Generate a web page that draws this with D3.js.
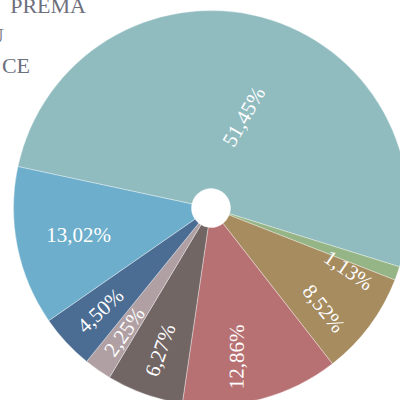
<!DOCTYPE html>
<html>
<head>
<meta charset="utf-8">
<script src="https://cdn.jsdelivr.net/npm/d3@7"></script>
<style>
  body { margin: 0; background: #ffffff; }
  svg { display: block; }
  text { font-family: "Liberation Serif", "Times New Roman", Times, serif; }
</style>
</head>
<body>
<div id="chart"></div>
<script>
// slice values, in drawing order (clockwise)
var values = [51.45, 1.13, 8.52, 12.86, 6.27, 2.25, 4.50, 13.02];
var colors = ["#90bcc0", "#96b586", "#a68c5f", "#b87173", "#726665", "#b0a0a4", "#4b6c93", "#6caecb"];
// the legend is cut off at the left edge, only the ends of three names show
var legendNames = ["PREMA", "U", "CE"];

var width = 400,
    height = 400;

var cx = 211,
    cy = 208,
    outerR = 197.5,
    innerR = 19.5;

var toRad = Math.PI / 180;
var startAngle = -77.9 * toRad;

var svg = d3.select("#chart").append("svg")
    .attr("width", width)
    .attr("height", height);

// format like the original, comma as decimal mark
function fmt(v) {
    return v.toFixed(2).replace(".", ",") + "%";
}

var pie = d3.pie()
    .sort(null)
    .value(function (d) { return d; })
    .startAngle(startAngle)
    .endAngle(startAngle + 2 * Math.PI);

var arc = d3.arc()
    .innerRadius(innerR)
    .outerRadius(outerR);

var arcs = pie(values);

var g = svg.append("g")
    .attr("transform", "translate(" + cx + "," + cy + ")");

g.selectAll("path.slice")
    .data(arcs)
    .enter().append("path")
    .attr("class", "slice")
    .attr("d", arc)
    .attr("fill", function (d, i) { return colors[i]; })
    .attr("stroke", "#ffffff")
    .attr("stroke-opacity", 0.6)
    .attr("stroke-width", 0.6);

// radial labels, nearly horizontal ones are laid flat
function labelInfo(d) {
    var mid = (d.startAngle + d.endAngle) / 2;
    var deg = mid / toRad;
    var norm = ((deg % 360) + 360) % 360;
    var right = norm < 180;
    var rot = norm - 90 + (right ? 15 : 0);
    while (rot > 90) rot -= 180;
    while (rot <= -90) rot += 180;
    var flat = Math.abs(rot) < 15;
    if (flat) rot = 0;
    var r = 151;
    if (d.endAngle - d.startAngle > Math.PI) r = 97;
    else if (flat) r = 135;
    var a = mid + (right ? 5 * toRad : 0);
    return {
        x: r * Math.sin(a),
        y: -r * Math.cos(a),
        rot: rot
    };
}

g.selectAll("text.label")
    .data(arcs)
    .enter().append("text")
    .attr("class", "label")
    .attr("transform", function (d) {
        var p = labelInfo(d);
        return "translate(" + p.x + "," + p.y + ") rotate(" + p.rot + ")";
    })
    .attr("text-anchor", "middle")
    .attr("dominant-baseline", "central")
    .attr("font-size", "21px")
    .attr("fill", "#ffffff")
    .text(function (d) { return fmt(d.value); });

// legend text (runs off the left edge)
var legendEnds = [86, 4, 30];
svg.selectAll("text.legend")
    .data(legendNames)
    .enter().append("text")
    .attr("class", "legend")
    .attr("x", function (d, i) { return legendEnds[i]; })
    .attr("y", function (d, i) { return 12.7 + i * 30.2; })
    .attr("text-anchor", "end")
    .attr("font-size", "22px")
    .attr("fill", "#6e6f7d")
    .text(function (d) { return d; });
</script>
</body>
</html>
